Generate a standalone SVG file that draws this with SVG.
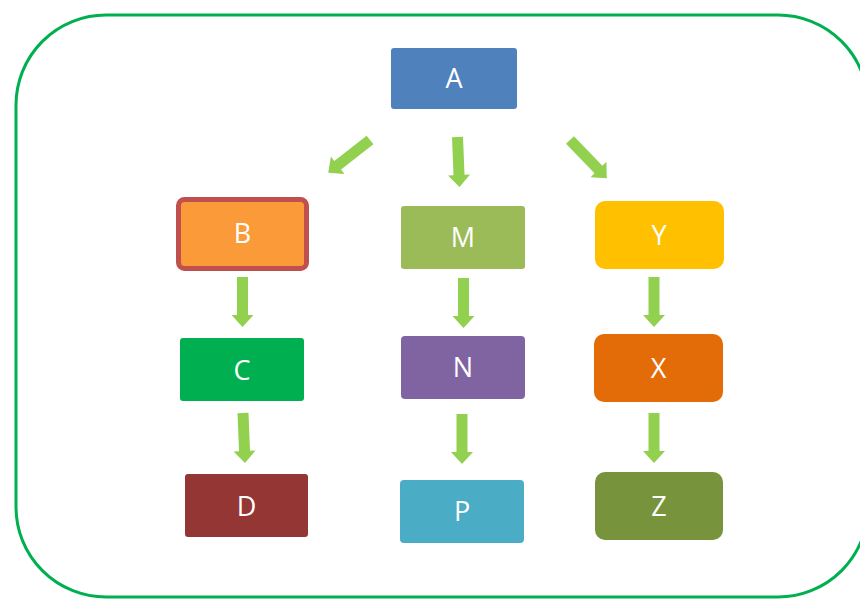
<svg xmlns="http://www.w3.org/2000/svg" xmlns:xlink="http://www.w3.org/1999/xlink" width="860" height="601" viewBox="0 0 860 601">
  <style>
    .frame { fill: none; stroke: #00b050; stroke-width: 3; }
    .lbl { font-family: "Open Sans", "Liberation Sans", sans-serif; font-size: 27px; fill: #ffffff; text-anchor: middle; }
    .arr { fill: #92d050; }
  </style>
  <defs>
    <!-- block arrows pointing down, tail centre at origin -->
    <path id="arrow50" d="M-5.5,0 H5.5 V38 H11 L0,50 L-11,38 H-5.5 Z"/>
    <path id="arrow53" d="M-5.5,0 H5.5 V41 H11 L0,53 L-11,41 H-5.5 Z"/>
  </defs>

  <rect class="frame" x="16" y="15" width="852" height="582" rx="90" ry="90"/>

  <g id="connectors" class="arr">
    <use xlink:href="#arrow53" transform="translate(370,140) rotate(52)"/>
    <use xlink:href="#arrow50" transform="translate(457.5,137) rotate(-2.3)"/>
    <use xlink:href="#arrow53" transform="translate(570,140) rotate(-44)"/>
    <use xlink:href="#arrow50" transform="translate(242.5,277)"/>
    <use xlink:href="#arrow50" transform="translate(463.5,278)"/>
    <use xlink:href="#arrow50" transform="translate(654,277)"/>
    <use xlink:href="#arrow50" transform="translate(243,413) rotate(-2.3)"/>
    <use xlink:href="#arrow50" transform="translate(462,414)"/>
    <use xlink:href="#arrow50" transform="translate(654,413)"/>
  </g>

  <g id="node-A">
    <rect x="391" y="48" width="126" height="61" rx="3" fill="#4f81bd"/>
    <text class="lbl" x="454" y="87.5">A</text>
  </g>
  <g id="node-B">
    <rect x="178.5" y="199.5" width="128" height="69" rx="6" fill="#fb9a38" stroke="#c0504d" stroke-width="5"/>
    <text class="lbl" x="242.5" y="243">B</text>
  </g>
  <g id="node-M">
    <rect x="401" y="206" width="124" height="63" rx="3" fill="#9bbb59"/>
    <text class="lbl" x="463" y="247">M</text>
  </g>
  <g id="node-Y">
    <rect x="595" y="201" width="129" height="68" rx="10" fill="#ffc000"/>
    <text class="lbl" x="659" y="245">Y</text>
  </g>
  <g id="node-C">
    <rect x="180" y="338" width="124" height="63" rx="3" fill="#00b050"/>
    <text class="lbl" x="242" y="380">C</text>
  </g>
  <g id="node-N">
    <rect x="401" y="336" width="124" height="63" rx="4" fill="#8064a2"/>
    <text class="lbl" x="463" y="377">N</text>
  </g>
  <g id="node-X">
    <rect x="594" y="334" width="129" height="68" rx="10" fill="#e36c09"/>
    <text class="lbl" x="658.5" y="378">X</text>
  </g>
  <g id="node-D">
    <rect x="185" y="474" width="123" height="63" rx="3" fill="#943634"/>
    <text class="lbl" x="246.5" y="515.5">D</text>
  </g>
  <g id="node-P">
    <rect x="400" y="480" width="124" height="63" rx="4" fill="#4bacc6"/>
    <text class="lbl" x="462" y="521">P</text>
  </g>
  <g id="node-Z">
    <rect x="595" y="472" width="128" height="68" rx="10" fill="#77933c"/>
    <text class="lbl" x="659" y="515.5">Z</text>
  </g>
</svg>
